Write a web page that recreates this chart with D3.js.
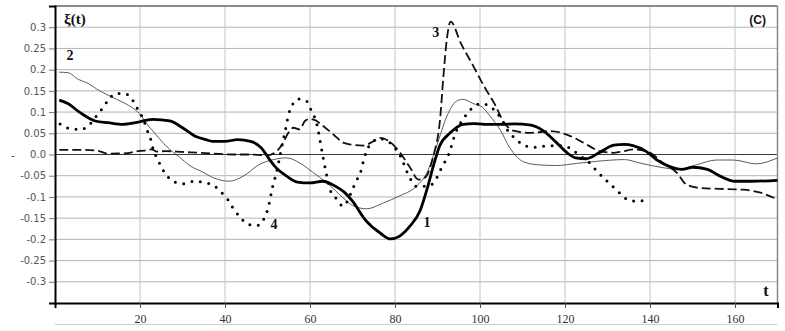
<!DOCTYPE html>
<html><head><meta charset="utf-8">
<script src="https://cdn.jsdelivr.net/npm/d3@7/dist/d3.min.js"></script>
<style>body{margin:0;background:#fff}svg{display:block}</style>
</head><body>
<script>
// ---- data ----
const xTicks = [20, 40, 60, 80, 100, 120, 140, 160];
const yTicks = [0.3, 0.25, 0.2, 0.15, 0.1, 0.05, 0, -0.05, -0.1, -0.15, -0.2, -0.25, -0.3];
const yTickLabels = ["0.3","0.25","0.2","0.15","0.1","0.05","0.0","-0.05","-0.1","-0.15","-0.2","-0.25","-0.3"];

const t1 = [1,3,6,9.5,12.5,16,19,23,27,30,33,35.5,37,40,43,46,48.5,50.5,52,54.5,57,60,63,66,68,70,73,76.5,79,81,83.5,86,87.5,89,90.5,93,96,98.5,101,105,108,112,115,118,120.5,122.5,125,128,131.5,134,136,139,141.5,144.5,147.5,150,153.5,156.5,160,164,170];
const v1 = [0.128,0.12,0.098,0.079,0.075,0.071,0.075,0.083,0.079,0.063,0.043,0.035,0.031,0.031,0.035,0.031,0.016,-0.012,-0.031,-0.051,-0.065,-0.067,-0.063,-0.075,-0.088,-0.11,-0.154,-0.185,-0.199,-0.193,-0.169,-0.13,-0.083,-0.028,0.02,0.051,0.071,0.073,0.071,0.071,0.072,0.069,0.055,0.028,0.004,-0.008,-0.01,0.004,0.022,0.024,0.021,0.008,-0.012,-0.028,-0.035,-0.03,-0.035,-0.051,-0.063,-0.063,-0.061];

const t2 = [1,3,5.5,7.5,10.5,14.5,17.6,20,22,23.5,25.1,27,29,32,34.5,37.3,41,44.3,48,51.4,54.5,57.6,60.8,64,68,70,73.3,77.3,81,85,87.5,89.8,92.2,94.5,96,98.4,100.5,102.4,104.7,107,110,113.3,118,122.7,127.5,134,137.6,143,147,151,155.7,159.6,165,170];
const v2 = [0.194,0.193,0.177,0.169,0.15,0.13,0.114,0.095,0.067,0.05,0.031,0.012,-0.004,-0.028,-0.04,-0.055,-0.063,-0.051,-0.024,-0.012,-0.008,-0.02,-0.043,-0.067,-0.104,-0.12,-0.128,-0.114,-0.098,-0.075,-0.043,0.02,0.09,0.126,0.13,0.12,0.112,0.09,0.059,0.016,-0.016,-0.024,-0.026,-0.021,-0.016,-0.012,-0.02,-0.031,-0.035,-0.024,-0.013,-0.013,-0.022,-0.008];

const t3 = [1,7,10,12.5,17,19.5,21,22.7,24,26,30,34,42,46,50,52.2,53.7,54.9,56.1,57.6,58.8,60,61.2,63.1,65.5,67.8,69.4,72.5,74.9,76.5,78.8,81.2,83.5,85.5,87,89,90.6,91.4,92.2,93.1,95.5,98.4,101,103.5,105.5,107.8,111.8,116.5,120.4,124.3,128.2,131.4,133,136.1,139.2,143.1,146.3,148.6,151.8,156.5,162,166,170];
const v3 = [0.011,0.011,0.009,0.002,0.003,0.008,0.009,0.012,0.007,0.008,0.006,0.004,0.0,0.0,-0.002,0.008,0.028,0.051,0.063,0.059,0.079,0.084,0.081,0.067,0.047,0.028,0.024,0.021,0.031,0.039,0.03,0.004,-0.03,-0.059,-0.055,-0.004,0.083,0.185,0.272,0.313,0.262,0.209,0.16,0.118,0.078,0.056,0.051,0.055,0.047,0.028,0.008,0.004,0.006,0.012,0.008,-0.02,-0.043,-0.071,-0.079,-0.081,-0.083,-0.09,-0.106];

const t4 = [1.2,3.5,6.1,8,9.6,11.1,12.5,14.3,16.6,18.4,19.6,20.8,21.6,22.5,23.1,24.1,25.1,26.4,28.2,30.4,32.8,35,37.6,39.2,40.8,42,43.5,45.5,47.8,49.4,50.2,50.7,51.2,51.8,52.4,52.9,53.6,54.4,54.9,55.7,57.3,59.4,60.4,61.5,62,62.4,62.8,63.3,63.8,64.7,66.3,67.8,69.8,70.8,71.9,72.5,73.2,74.5,76.5,78.8,80.4,81.6,82.4,83.5,85.1,87.6,89.4,90.5,91.6,92.7,94.1,96.5,98.2,100.4,102.5,104.3,106.7,108.6,110.5,112.9,115.3,117.6,120,122.1,124,125.9,127.5,129.3,131.2,132.8,134.5,136.9,139.4];
const v4 = [0.072,0.061,0.059,0.069,0.089,0.108,0.128,0.144,0.143,0.126,0.104,0.083,0.059,0.037,0.012,-0.01,-0.031,-0.051,-0.065,-0.069,-0.063,-0.066,-0.075,-0.09,-0.108,-0.128,-0.147,-0.165,-0.167,-0.146,-0.124,-0.1,-0.076,-0.054,-0.029,-0.005,0.03,0.067,0.092,0.114,0.131,0.124,0.101,0.076,0.053,0.031,0.008,-0.018,-0.043,-0.083,-0.105,-0.122,-0.087,-0.063,-0.042,-0.018,0.005,0.028,0.037,0.028,0.01,-0.01,-0.031,-0.055,-0.075,-0.075,-0.063,-0.04,-0.02,0.002,0.047,0.09,0.11,0.12,0.112,0.094,0.054,0.035,0.021,0.017,0.02,0.021,0.02,0.008,-0.006,-0.021,-0.039,-0.057,-0.075,-0.09,-0.105,-0.11,-0.106];

const curveLabels = [
  {text:"1", t:87.5, v:-0.17},
  {text:"2", t:3.5, v:0.222},
  {text:"3", t:89.6, v:0.276},
  {text:"4", t:51.5, v:-0.175}
];

// ---- drawing ----
const W = 785, H = 331;
const svg = d3.select("body").append("svg").attr("width", W).attr("height", H);
const x = d3.scaleLinear().domain([0, 170]).range([55, 777.5]);
const y = d3.scaleLinear().domain([-0.35, 0.35]).range([303, 6]);

// grid
svg.append("g").selectAll("line").data(yTicks.filter(d => d !== 0)).join("line")
  .attr("x1", x(0)).attr("x2", x(170)).attr("y1", d => y(d)).attr("y2", d => y(d))
  .attr("stroke", "#b4b4b4").attr("stroke-width", 1);
svg.append("g").selectAll("line").data(xTicks).join("line")
  .attr("x1", d => x(d)).attr("x2", d => x(d)).attr("y1", y(0.35)).attr("y2", y(-0.35))
  .attr("stroke", "#c4c4c4").attr("stroke-width", 1);
// zero line
svg.append("line").attr("x1", x(0)).attr("x2", x(170)).attr("y1", y(0)).attr("y2", y(0))
  .attr("stroke", "#3a3a3a").attr("stroke-width", 1.2);

// frame
svg.append("line").attr("x1", x(0)).attr("x2", x(170)).attr("y1", y(0.35)).attr("y2", y(0.35))
  .attr("stroke", "#8a8a8a").attr("stroke-width", 2);
svg.append("line").attr("x1", x(170)).attr("x2", x(170)).attr("y1", y(0.35)).attr("y2", y(-0.35))
  .attr("stroke", "#8a8a8a").attr("stroke-width", 1.5);

// axes
const yAxis = d3.axisLeft(y).tickValues(yTicks).tickSize(6).tickPadding(3)
  .tickFormat((d, i) => yTickLabels[i]);
const gy = svg.append("g").attr("transform", `translate(${x(0)},0)`).call(yAxis);
gy.select(".domain").attr("stroke", "#000").attr("stroke-width", 2);
gy.selectAll(".tick line").attr("stroke", "#777");
gy.selectAll("text").attr("fill", "#555").style("font-family", "'DejaVu Sans', sans-serif").style("font-size", "10px");

const xAxis = d3.axisBottom(x).tickValues(xTicks).tickSize(5).tickPadding(6).tickFormat(d3.format("d"));
const gx = svg.append("g").attr("transform", `translate(0,${y(-0.35)})`).call(xAxis);
gx.select(".domain").attr("stroke", "#000").attr("stroke-width", 2);
gx.selectAll(".tick line").attr("stroke", "#555");
gx.selectAll("text").attr("fill", "#333").style("font-family", "'Liberation Serif', serif").style("font-size", "12px");

// light line under the axis labels
svg.append("line").attr("x1", x(0)).attr("x2", x(170)).attr("y1", 324.5).attr("y2", 324.5)
  .attr("stroke", "#cfcfcf").attr("stroke-width", 1);

// stray mark at left
svg.append("text").attr("x", 11).attr("y", 159).text("-").attr("fill", "#444")
  .style("font-family", "'DejaVu Sans', sans-serif").style("font-size", "10px");

// series
const line = d3.line().x(d => x(d[0])).y(d => y(d[1])).curve(d3.curveMonotoneX);
const zip = (a, b) => a.map((d, i) => [d, b[i]]);

svg.append("path").datum(zip(t2, v2)).attr("d", line)
  .attr("fill", "none").attr("stroke", "#4a4a4a").attr("stroke-width", 0.9);
svg.append("path").datum(zip(t3, v3)).attr("d", line)
  .attr("fill", "none").attr("stroke", "#111").attr("stroke-width", 1.8).attr("stroke-dasharray", "9,4");
svg.append("path").datum(zip(t4, v4)).attr("d", line)
  .attr("fill", "none").attr("stroke", "#000").attr("stroke-width", 3)
  .attr("stroke-linecap", "round").attr("stroke-dasharray", "0,8.5");
svg.append("path").datum(zip(t1, v1)).attr("d", line)
  .attr("fill", "none").attr("stroke", "#000").attr("stroke-width", 2.8).attr("stroke-linejoin", "round");

// labels
svg.append("g").selectAll("text").data(curveLabels).join("text")
  .attr("x", d => x(d.t)).attr("y", d => y(d.v)).attr("text-anchor", "middle")
  .text(d => d.text).attr("fill", "#111")
  .style("font-family", "'Liberation Serif', serif").style("font-size", "14px").style("font-weight", "bold");

svg.append("text").attr("x", 64).attr("y", 24).text("ξ(t)").attr("fill", "#111")
  .style("font-family", "'Liberation Serif', serif").style("font-size", "15px").style("font-weight", "bold");
svg.append("text").attr("x", 766).attr("y", 24).attr("text-anchor", "end").text("(C)").attr("fill", "#111")
  .style("font-family", "'Liberation Sans', Arial, sans-serif").style("font-size", "12px").style("font-weight", "bold");
svg.append("text").attr("x", 766).attr("y", 296).attr("text-anchor", "middle").text("t").attr("fill", "#111")
  .style("font-family", "'Liberation Serif', serif").style("font-size", "16px").style("font-weight", "bold");
</script>
</body></html>
